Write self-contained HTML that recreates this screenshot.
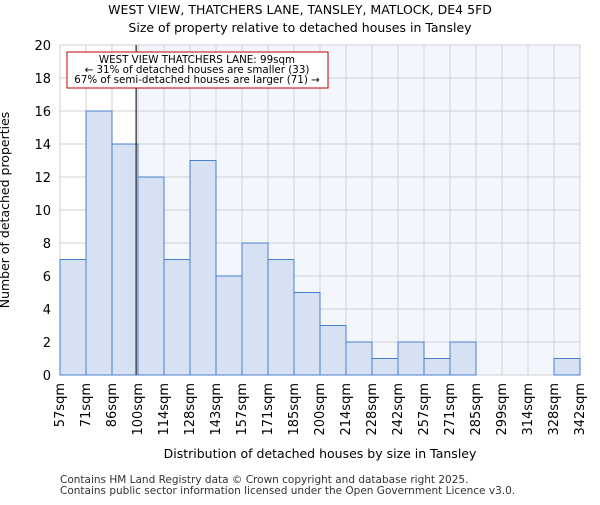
<!DOCTYPE html>
<html><head><meta charset="utf-8"><style>body{margin:0;background:#fff}text{font-family:"DejaVu Sans","Liberation Sans",sans-serif}</style></head>
<body>
<svg id="c" width="600" height="500" xmlns="http://www.w3.org/2000/svg"></svg>
<script>
const labels=["57sqm","71sqm","86sqm","100sqm","114sqm","128sqm","143sqm","157sqm","171sqm","185sqm","200sqm","214sqm","228sqm","242sqm","257sqm","271sqm","285sqm","299sqm","314sqm","328sqm","342sqm"];
const counts=[7,16,14,12,7,13,6,8,7,5,3,2,1,2,1,2,0,0,0,1];
const yTicks=[0,2,4,6,8,10,12,14,16,18,20];
const marker=99;
const binEdges=[57,71,86,100,114,128,143,157,171,185,200,214,228,242,257,271,285,299,314,328,342];
const X0=60,X1=580,Y0=375,Y1=45;
const svg=document.getElementById('c');const NS="http://www.w3.org/2000/svg";
function el(t,a,txt){const e=document.createElementNS(NS,t);for(const k in a)e.setAttribute(k,a[k]);if(txt!=null)e.textContent=txt;svg.appendChild(e);return e;}
const n=counts.length,bw=(X1-X0)/n;
const xs=i=>X0+i*bw;
const ys=v=>Y0-(v/20)*(Y0-Y1);
function xv(v){for(let i=0;i<binEdges.length-1;i++){if(v<=binEdges[i+1])return xs(i)+(v-binEdges[i])/(binEdges[i+1]-binEdges[i])*bw;}return X1;}
const mx=xv(marker);
let e=el('rect',{x:X0,y:Y1,width:X1-X0,height:Y0-Y1,fill:'#fff'});
e=el('rect',{x:mx,y:Y1,width:X1-mx,height:Y0-Y1,fill:'#f3f6fd'});
for(let i=0;i<=n;i++){e=el('line',{x1:xs(i),x2:xs(i),y1:Y1,y2:Y0,stroke:'#d0d0d0'});}
yTicks.forEach(t=>{e=el('line',{x1:X0,x2:X1,y1:ys(t),y2:ys(t),stroke:'#d0d0d0'});
e=el('text',{x:X0-9,y:ys(t)+5,'text-anchor':'end','font-size':13},t);});
counts.forEach((c,i)=>{if(c<=0)return;e=el('rect',{x:xs(i),y:ys(c),width:bw,height:Y0-ys(c),fill:'#d6e1f4',stroke:'#4a7fd0','stroke-width':1});});
labels.forEach((l,i)=>{const x=xs(i)+4;e=el('text',{x:x,y:383,'text-anchor':'end','font-size':13,transform:`rotate(-90 ${x} 383)`},l);});
e=el('line',{x1:mx,x2:mx,y1:Y1,y2:Y0,stroke:'#333','stroke-width':1.3});
e=el('rect',{x:67,y:52,width:261,height:36,fill:'#fff',stroke:'#c00000','stroke-width':1});
[["WEST VIEW THATCHERS LANE: 99sqm",63],["← 31% of detached houses are smaller (33)",73],["67% of semi-detached houses are larger (71) →",83]].forEach(a=>{e=el('text',{x:197,y:a[1],'text-anchor':'middle','font-size':10.3},a[0]);});
e=el('text',{x:300,y:14,'text-anchor':'middle','font-size':12.5},"WEST VIEW, THATCHERS LANE, TANSLEY, MATLOCK, DE4 5FD");
e=el('text',{x:300,y:32,'text-anchor':'middle','font-size':12.5},"Size of property relative to detached houses in Tansley");
e=el('text',{x:320,y:458,'text-anchor':'middle','font-size':12.5},"Distribution of detached houses by size in Tansley");
e=el('text',{x:9,y:210,'text-anchor':'middle','font-size':12.5,transform:'rotate(-90 9 210)'},"Number of detached properties");
e=el('text',{x:60,y:483,'font-size':10.5,fill:'#333'},"Contains HM Land Registry data © Crown copyright and database right 2025.");
e=el('text',{x:60,y:494,'font-size':10.5,fill:'#333'},"Contains public sector information licensed under the Open Government Licence v3.0.");
</script>
</body></html>
